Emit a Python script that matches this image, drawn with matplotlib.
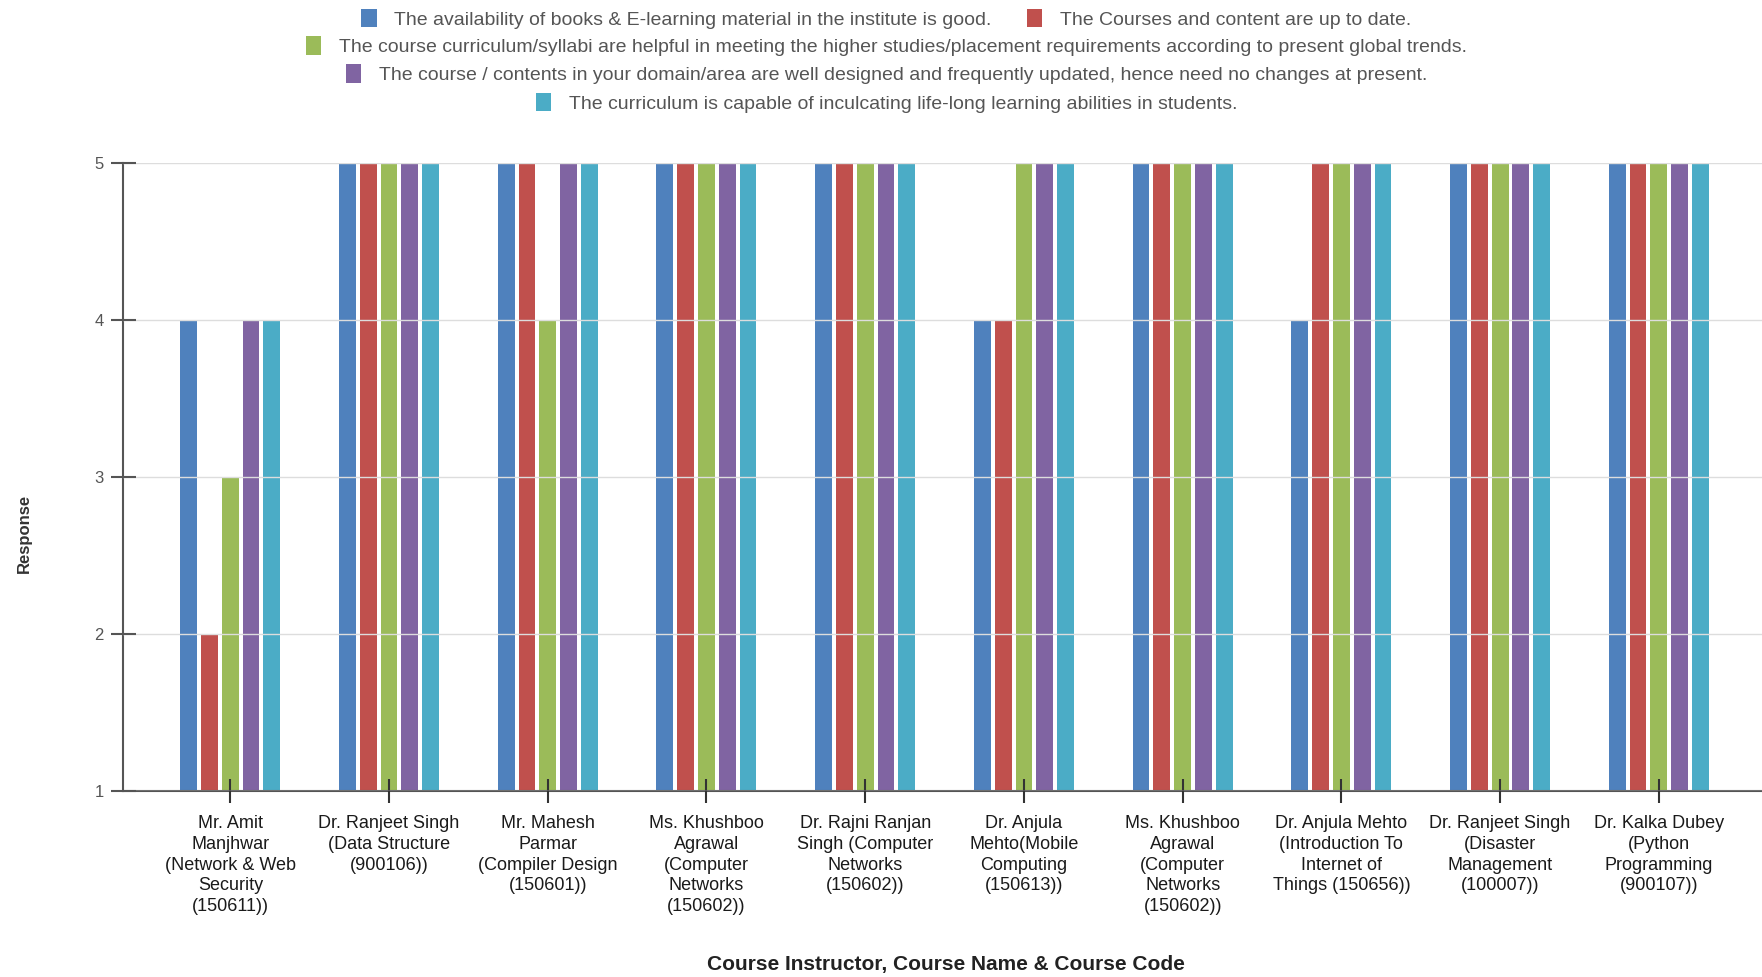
import numpy as np
import matplotlib
matplotlib.use('Agg')
import matplotlib.pyplot as plt
from matplotlib.patches import Patch

plt.rcParams['font.family'] = ['Liberation Sans', 'DejaVu Sans']

instructors = [
    'Mr. Amit\nManjhwar\n(Network & Web\nSecurity\n(150611))',
    'Dr. Ranjeet Singh\n(Data Structure\n(900106))',
    'Mr. Mahesh\nParmar\n(Compiler Design\n(150601))',
    'Ms. Khushboo\nAgrawal\n(Computer\nNetworks\n(150602))',
    'Dr. Rajni Ranjan\nSingh (Computer\nNetworks\n(150602))',
    'Dr. Anjula\nMehto(Mobile\nComputing\n(150613))',
    'Ms. Khushboo\nAgrawal\n(Computer\nNetworks\n(150602))',
    'Dr. Anjula Mehto\n(Introduction To\nInternet of\nThings (150656))',
    'Dr. Ranjeet Singh\n(Disaster\nManagement\n(100007))',
    'Dr. Kalka Dubey\n(Python\nProgramming\n(900107))',
]

questions = [
    'The availability of books & E-learning material in the institute is good.',
    'The Courses and content are up to date.',
    'The course curriculum/syllabi are helpful in meeting the higher studies/placement requirements according to present global trends.',
    'The course / contents in your domain/area are well designed and frequently updated, hence need no changes at present.',
    'The curriculum is capable of inculcating life-long learning abilities in students.',
]

books = [4, 5, 5, 5, 5, 4, 5, 4, 5, 5]
uptodate = [2, 5, 5, 5, 5, 4, 5, 5, 5, 5]
helpful = [3, 5, 4, 5, 5, 5, 5, 5, 5, 5]
designed = [4, 5, 5, 5, 5, 5, 5, 5, 5, 5]
lifelong = [4, 5, 5, 5, 5, 5, 5, 5, 5, 5]

series = [books, uptodate, helpful, designed, lifelong]
colors = ['#4F81BD', '#C0504D', '#9BBB59', '#8064A2', '#4BACC6']

fig = plt.figure(figsize=(17.62, 9.77), dpi=100)
ax = fig.add_axes([0.0698, 0.1904, 0.9302, 0.6429])

x = np.arange(len(instructors))
pitch = 0.131
width = 0.106
for i, (vals, c) in enumerate(zip(series, colors)):
    vals = np.array(vals)
    ax.bar(x + (i - 2) * pitch, vals - 1, width, bottom=1, color=c, zorder=2)

ax.set_ylim(1, 5)
ax.set_xlim(-0.676, 9.65)
ax.set_yticks([1, 2, 3, 4, 5])
ax.set_xticks(x)
ax.set_xticklabels(instructors, fontsize=13, color='#1a1a1a', linespacing=1.28)
ax.tick_params(axis='x', direction='inout', length=17, width=1.5, color='#333333', pad=9)
ax.tick_params(axis='y', direction='inout', length=18, width=1.5, color='#555555',
               labelsize=12, labelcolor='#555555', pad=5)
ax.set_axisbelow(False)
ax.grid(axis='y', color='#dddddd', linewidth=1, zorder=0)
for s in ['top', 'right']:
    ax.spines[s].set_visible(False)
ax.spines['left'].set_color('#555555')
ax.spines['bottom'].set_color('#555555')
ax.spines['left'].set_linewidth(1.5)
ax.spines['bottom'].set_linewidth(1.5)
for gl in ax.get_ygridlines():
    gl.set_zorder(0)

fig.text(0.014, 0.454, 'Response', rotation=90, ha='center', va='center',
         fontsize=12, fontweight='bold', color='#333333')
fig.text(0.537, 0.013, 'Course Instructor, Course Name & Course Code', ha='center',
         va='center', fontsize=15, fontweight='bold', color='#222222')

handles = [Patch(facecolor=c, edgecolor='none') for c in colors]
rows = [[0, 1], [2], [3], [4]]
row_y = [0.981, 0.953, 0.924, 0.895]
for r, y in zip(rows, row_y):
    fig.legend([handles[i] for i in r], [questions[i] for i in r], loc='center',
               bbox_to_anchor=(0.503, y), ncol=len(r), frameon=False, fontsize=14,
               handlelength=0.8, handleheight=1.1, handletextpad=0.9, columnspacing=1.8,
               labelcolor='#555555', borderpad=0, borderaxespad=0)

fig.savefig('out.png', dpi=100)
